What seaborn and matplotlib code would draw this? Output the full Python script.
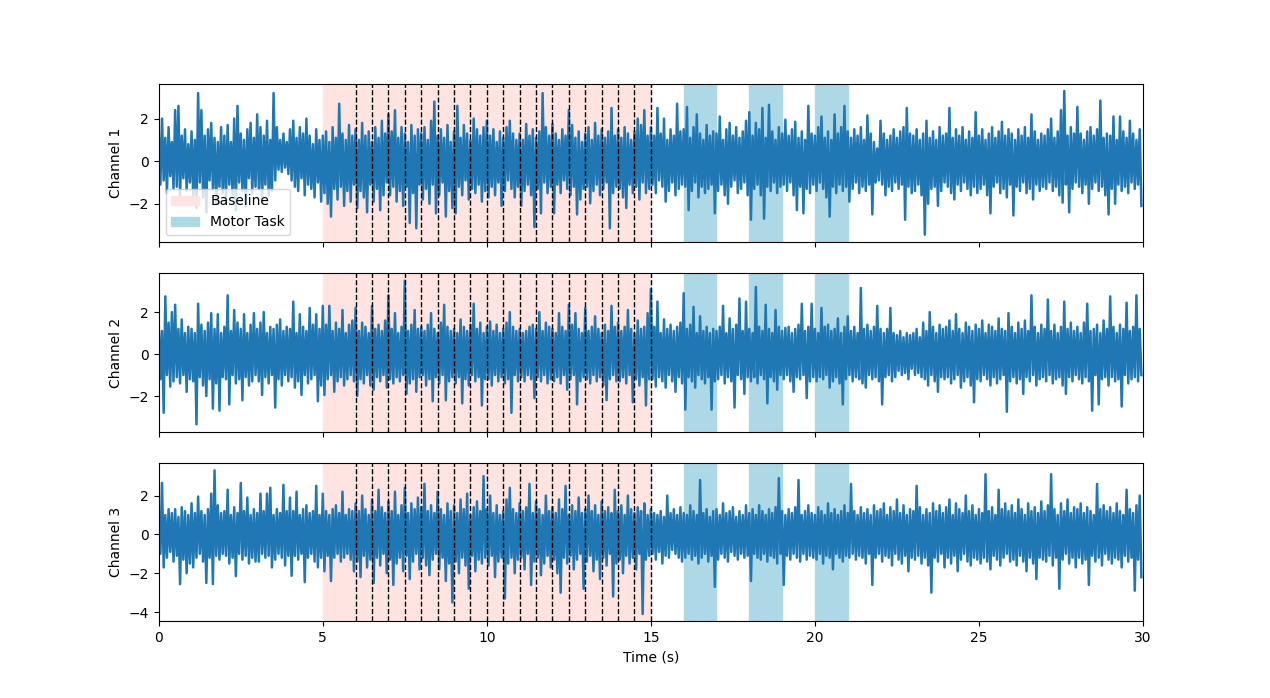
import numpy as np
import matplotlib
matplotlib.use("Agg")
import matplotlib.pyplot as plt
import seaborn as sns

# ---------------- data (alternating local high / low every 0.05 s) -------------
channel_names = ["Channel 1", "Channel 2", "Channel 3"]

channel_1 = [
    1.3,-1.1, 2.0,-0.9, 1.1,-1.5, 1.6,-0.7, 0.9,-1.3, 2.4,-1.2, 2.6,-1.6, 1.2,-0.8, 1.5,-1.4, 0.8,-1.0,
    1.4,-1.6, 1.0,-2.2, 3.2,-1.0, 2.4,-1.7, 1.2,-2.4, 1.5,-0.9, 1.8,-1.3, 1.1,-2.0, 0.9,-1.2, 1.6,-1.5,
    1.2,-1.8, 1.7,-1.1, 0.9,-1.6, 2.0,-2.3, 2.6,-1.0, 1.3,-1.4, 1.0,-2.1, 1.5,-0.8, 1.8,-1.5, 1.1,-1.2,
    2.2,-1.3, 1.6,-2.0, 1.2,-1.1, 1.9,-1.6, 1.0,-1.4, 3.2,-0.9, 1.6,-0.4, 1.0,-0.5, 1.3,-0.3, 0.9,-0.6,
    1.5,-0.9, 1.9,-1.2, 1.1,-1.4, 1.6,-0.8, 1.3,-1.6, 2.0,-1.1, 1.2,-1.3, 0.8,-1.7, 1.5,-1.0, 1.0,-1.9,
    1.2,-1.5, 1.4,-2.0, 0.9,-2.6, 1.6,-1.3, 1.1,-1.8, 2.7,-1.2, 1.3,-2.1, 1.0,-1.4, 1.7,-1.9, 1.2,-1.1,
    1.5,-2.2, 1.0,-1.4, 1.8,-1.7, 1.2,-2.4, 1.4,-1.1, 0.9,-1.9, 1.6,-1.3, 1.1,-2.3, 1.9,-1.6, 1.3,-1.0,
    2.2,-1.6, 1.4,-1.2, 2.4,-1.9, 1.1,-1.4, 1.6,-2.1, 1.3,-1.2, 0.9,-2.9, 1.7,-1.5, 1.2,-3.15, 1.5,-1.1,
    1.3,-1.8, 1.6,-1.3, 1.0,-2.0, 1.9,-1.1, 2.8,-2.45, 1.2,-1.6, 1.5,-1.0, 1.1,-2.6, 1.7,-1.4, 0.9,-2.2,
    1.4,-2.45, 2.6,-1.2, 1.1,-1.6, 1.7,-0.9, 1.3,-1.8, 1.0,-1.3, 2.0,-1.5, 1.5,-1.1, 1.2,-1.9, 1.6,-1.4,
    1.9,-1.7, 1.2,-1.2, 1.5,-1.6, 0.9,-1.0, 1.4,-2.1, 1.1,-1.4, 1.6,-0.9, 1.9,-1.3, 1.3,-1.7, 1.0,-1.2,
    1.3,-2.1, 1.0,-1.4, 1.75,-1.1, 1.2,-1.6, 1.5,-3.1, 1.1,-1.3, 1.4,-2.45, 3.2,-1.0, 1.6,-1.5, 1.2,-1.2,
    1.75,-2.45, 1.3,-1.1, 1.0,-1.5, 1.5,-0.9, 1.2,-1.3, 2.4,-1.6, 1.7,-1.2, 1.1,-2.5, 1.4,-1.8, 0.9,-1.3,
    1.3,-1.2, 1.6,-1.98, 1.0,-1.4, 1.8,-1.1, 1.2,-1.6, 1.5,-1.3, 1.1,-1.0, 1.4,-3.15, 2.5,-1.5, 1.2,-1.2,
    1.5,-1.3, 1.1,-1.7, 1.6,-2.2, 1.3,-1.1, 1.0,-1.5, 1.4,-1.2, 2.0,-1.8, 1.7,-1.0, 2.4,-1.5, 1.2,-1.3,
    1.6,-1.1, 1.2,-1.5, 2.5,-0.9, 1.3,-1.2, 2.0,-1.9, 1.0,-1.4, 1.5,-1.0, 1.2,-1.6, 2.7,-1.3, 1.4,-1.1,
    1.5,-1.2, 2.55,-2.3, 1.1,-1.4, 1.6,-1.0, 2.2,-1.7, 1.3,-1.2, 1.0,-1.5, 1.7,-1.3, 1.2,-1.1, 1.4,-2.45,
    1.3,-1.4, 2.1,-1.1, 1.0,-1.6, 1.5,-2.0, 1.8,-1.2, 1.2,-0.9, 1.6,-1.5, 1.1,-1.3, 1.4,-1.0, 1.9,-1.6,
    2.3,-2.75, 1.2,-1.3, 1.8,-1.1, 1.5,-1.6, 2.5,-2.7, 1.1,-1.2, 2.65,-1.4, 1.4,-1.0, 1.0,-1.5, 1.6,-1.2,
    1.3,-1.1, 1.95,-1.4, 1.2,-1.0, 1.5,-1.6, 1.85,-2.3, 1.1,-1.2, 1.4,-2.45, 1.0,-1.3, 2.6,-1.5, 1.3,-1.1,
    1.2,-1.4, 1.6,-1.0, 2.1,-1.3, 1.1,-1.7, 1.4,-2.6, 1.0,-1.2, 2.2,-1.5, 1.3,-1.1, 1.6,-1.4, 2.6,-1.2,
    1.4,-1.9, 1.1,-1.3, 1.5,-1.0, 1.2,-1.5, 1.6,-1.2, 1.0,-1.4, 2.15,-1.1, 1.3,-2.5, 0.9,-1.0, 0.6,-0.9,
    1.9,-1.1, 1.3,-1.6, 1.0,-1.2, 1.2,-1.4, 1.5,-1.0, 1.1,-1.3, 1.4,-1.1, 1.6,-2.75, 2.5,-1.2, 1.3,-1.5,
    1.2,-1.4, 1.5,-1.1, 1.0,-1.6, 1.3,-3.45, 1.9,-2.0, 1.1,-1.3, 1.4,-1.2, 1.0,-2.1, 1.6,-1.4, 1.2,-1.0,
    1.3,-1.2, 2.5,-1.5, 1.1,-1.8, 1.5,-1.1, 1.2,-1.4, 1.6,-1.0, 1.0,-1.3, 1.4,-1.6, 1.1,-1.2, 2.3,-1.5,
    1.2,-1.3, 1.5,-1.1, 1.0,-1.6, 1.3,-2.45, 1.6,-1.2, 1.1,-1.0, 1.4,-1.5, 1.85,-1.3, 1.2,-1.7, 1.5,-1.1,
    1.3,-2.55, 1.0,-1.2, 1.5,-1.4, 1.2,-1.0, 1.6,-1.5, 1.1,-1.3, 2.2,-1.8, 1.4,-1.1, 1.0,-1.4, 1.3,-1.2,
    1.2,-1.3, 1.5,-1.0, 2.0,-1.4, 1.1,-1.2, 1.4,-1.6, 2.4,-1.95, 3.3,-1.1, 1.2,-2.4, 1.6,-1.3, 1.3,-1.0,
    2.55,-1.2, 1.3,-1.5, 1.0,-1.1, 1.4,-2.0, 1.6,-1.3, 1.2,-1.0, 1.5,-1.4, 2.85,-1.2, 1.1,-1.6, 1.3,-2.5,
    1.2,-1.3, 2.1,-2.0, 1.0,-1.1, 2.1,-1.4, 1.4,-1.2, 1.1,-1.5, 1.9,-1.0, 1.3,-1.3, 1.0,-1.1, 1.5,-2.1,
]

channel_2 = [
    1.4,-1.2, 1.1,-2.8, 2.75,-1.0, 1.5,-1.55, 2.0,-1.3, 2.35,-1.1, 1.2,-1.4, 1.65,-1.0, 1.0,-1.8, 1.3,-1.2,
    1.2,-1.3, 1.0,-3.35, 2.4,-1.1, 1.4,-1.5, 1.1,-2.0, 1.5,-1.2, 1.95,-2.6, 1.2,-1.4, 1.9,-2.7, 1.0,-1.1,
    1.3,-1.2, 2.8,-2.4, 1.1,-1.0, 2.1,-1.4, 1.5,-1.2, 1.2,-2.2, 1.9,-1.1, 1.0,-1.5, 1.4,-1.3, 1.95,-1.0,
    1.2,-1.3, 1.5,-1.95, 2.0,-1.1, 1.0,-1.4, 1.3,-1.0, 1.2,-2.55, 1.4,-1.2, 1.65,-1.5, 1.1,-1.0, 1.3,-1.3,
    1.2,-1.1, 2.5,-1.6, 1.0,-1.3, 1.9,-1.95, 1.3,-1.0, 1.1,-1.4, 2.2,-1.2, 1.4,-1.0, 1.9,-2.25, 1.2,-1.5,
    2.3,-1.95, 1.4,-1.2, 2.3,-1.0, 1.1,-1.8, 1.5,-1.3, 1.2,-1.1, 2.1,-1.5, 1.0,-1.2, 1.4,-1.0, 1.6,-1.3,
    2.2,-2.0, 1.1,-1.2, 1.5,-1.4, 1.3,-1.0, 1.0,-1.5, 2.3,-1.7, 1.2,-1.1, 1.4,-1.3, 1.1,-1.0, 1.6,-1.6,
    2.8,-1.2, 1.2,-1.4, 1.95,-1.1, 1.0,-1.3, 1.3,-1.0, 3.5,-1.9, 1.1,-1.4, 1.4,-1.2, 2.1,-1.8, 1.2,-1.1,
    1.3,-1.0, 1.1,-1.5, 1.4,-1.2, 1.95,-2.25, 1.2,-1.1, 1.0,-1.4, 1.5,-1.0, 2.35,-2.2, 1.3,-1.3, 1.1,-1.1,
    1.2,-1.4, 1.0,-1.1, 1.65,-2.35, 1.3,-1.2, 1.1,-1.5, 1.4,-1.0, 2.4,-1.3, 1.2,-1.1, 1.5,-2.45, 1.0,-1.2,
    1.3,-1.2, 1.55,-1.5, 1.1,-1.0, 1.4,-1.3, 1.0,-1.1, 1.2,-1.4, 1.5,-1.2, 2.0,-2.8, 1.3,-1.0, 1.1,-1.3,
    1.2,-1.1, 1.0,-1.3, 1.1,-1.0, 1.3,-1.2, 1.4,-2.1, 1.2,-1.1, 2.0,-1.3, 1.1,-1.0, 1.5,-1.4, 1.3,-1.2,
    1.2,-1.3, 1.0,-1.1, 1.95,-1.4, 1.3,-1.0, 1.1,-1.7, 2.35,-1.2, 1.4,-1.0, 1.95,-2.4, 1.2,-1.3, 1.0,-1.1,
    2.2,-1.2, 1.1,-1.4, 1.3,-1.0, 1.8,-1.3, 1.2,-1.1, 1.0,-1.5, 1.4,-2.2, 1.1,-1.2, 2.3,-1.0, 1.3,-1.3,
    1.5,-1.3, 1.1,-1.1, 1.3,-1.4, 2.1,-1.0, 1.2,-2.3, 1.0,-1.2, 1.6,-1.5, 1.2,-1.1, 1.3,-2.45, 1.95,-1.2,
    3.1,-1.2, 1.3,-1.55, 2.5,-1.1, 1.0,-1.3, 1.65,-1.6, 1.2,-1.0, 1.4,-1.3, 1.1,-1.8, 1.3,-1.1, 1.5,-1.4,
    2.9,-2.65, 1.2,-1.1, 1.4,-1.3, 2.25,-1.6, 1.0,-1.0, 1.8,-1.2, 1.1,-1.4, 1.3,-1.1, 1.0,-2.65, 1.2,-1.3,
    1.1,-1.2, 1.3,-1.0, 2.3,-1.4, 1.0,-1.1, 1.7,-1.3, 1.2,-2.55, 1.4,-1.0, 2.65,-1.2, 1.1,-1.9, 2.5,-1.1,
    1.2,-1.3, 1.0,-1.1, 3.2,-1.4, 1.3,-1.0, 1.1,-1.2, 2.35,-2.35, 1.2,-1.1, 1.0,-1.3, 2.1,-1.7, 1.3,-1.0,
    1.1,-1.2, 1.25,-1.0, 1.3,-1.3, 1.0,-1.8, 1.2,-1.1, 1.4,-1.2, 2.4,-1.0, 1.1,-2.1, 1.3,-1.3, 2.4,-1.1,
    1.2,-1.3, 1.0,-1.1, 2.2,-1.2, 1.3,-1.0, 1.4,-1.6, 1.1,-1.3, 1.2,-1.1, 1.7,-1.4, 1.0,-2.4, 1.3,-1.2,
    1.8,-1.0, 1.1,-1.3, 1.3,-1.1, 1.0,-1.2, 3.15,-1.4, 1.2,-1.6, 1.4,-1.0, 1.1,-1.2, 1.3,-1.1, 2.3,-1.3,
    1.2,-2.4, 1.0,-1.1, 1.2,-1.0, 2.2,-1.3, 1.0,-1.1, 0.9,-0.8, 1.1,-1.0, 0.8,-0.9, 1.0,-1.2, 0.9,-0.7,
    1.0,-1.0, 1.2,-0.9, 0.8,-1.1, 1.5,-1.2, 1.1,-1.5, 2.0,-1.0, 1.3,-1.3, 1.0,-1.8, 1.4,-1.1, 1.2,-1.2,
    1.3,-1.1, 1.6,-1.4, 1.1,-1.2, 1.9,-1.0, 1.2,-1.6, 1.0,-1.3, 1.5,-1.1, 1.3,-1.5, 1.1,-2.3, 1.4,-1.2,
    1.2,-1.3, 1.6,-1.0, 1.0,-1.2, 1.4,-1.5, 1.3,-1.1, 1.1,-1.4, 1.7,-1.2, 1.2,-1.0, 1.1,-2.75, 1.95,-1.3,
    1.3,-1.1, 1.0,-1.4, 1.5,-1.2, 1.2,-1.9, 1.6,-1.1, 1.1,-1.3, 2.8,-1.0, 1.3,-1.5, 1.0,-1.2, 1.4,-1.1,
    1.2,-1.3, 2.6,-1.0, 1.1,-1.4, 1.4,-1.2, 1.0,-1.1, 1.3,-1.5, 2.5,-1.9, 1.2,-1.1, 1.5,-1.3, 1.1,-1.0,
    1.3,-1.2, 1.0,-1.4, 1.5,-1.1, 2.4,-1.3, 1.1,-2.7, 1.2,-1.0, 1.4,-2.4, 1.0,-1.2, 1.6,-1.1, 1.2,-1.5,
    2.75,-1.1, 1.3,-1.3, 1.0,-1.2, 1.4,-2.5, 1.2,-1.0, 2.45,-1.4, 1.1,-1.2, 1.3,-1.1, 2.8,-1.3, 1.2,-1.0,
]

channel_3 = [
    1.2,-1.0, 2.65,-1.7, 1.0,-1.2, 1.3,-0.9, 1.1,-1.4, 1.3,-1.1, 0.9,-2.56, 1.4,-1.3, 1.2,-2.0, 1.0,-1.5,
    1.6,-1.7, 1.1,-1.2, 1.95,-1.0, 1.2,-1.4, 1.0,-2.5, 1.3,-1.2, 2.1,-2.56, 3.3,-1.1, 1.5,-1.3, 1.1,-1.0,
    1.2,-1.1, 2.3,-1.5, 1.0,-1.2, 1.4,-2.15, 1.1,-1.0, 2.65,-1.3, 1.2,-1.1, 1.9,-1.5, 1.0,-1.2, 1.3,-1.4,
    1.1,-1.4, 2.1,-1.0, 1.2,-1.2, 2.1,-1.1, 2.4,-1.7, 1.0,-1.3, 1.3,-1.0, 1.1,-1.2, 2.55,-1.6, 1.2,-1.1,
    1.9,-2.13, 1.2,-1.1, 2.2,-1.3, 1.0,-1.0, 1.3,-2.46, 1.5,-1.2, 1.1,-1.0, 1.2,-1.4, 2.5,-1.7, 1.0,-1.2,
    2.1,-1.9, 1.2,-1.1, 1.0,-2.4, 1.3,-1.2, 1.5,-1.0, 1.1,-1.4, 2.2,-1.2, 1.0,-1.0, 1.3,-1.3, 1.2,-1.9,
    1.6,-1.4, 1.2,-2.2, 2.0,-1.1, 1.3,-1.7, 1.0,-1.3, 1.8,-2.5, 1.2,-1.2, 2.3,-1.6, 1.4,-1.0, 1.1,-2.0,
    1.7,-1.3, 1.2,-2.6, 2.2,-1.5, 1.0,-1.2, 1.5,-1.9, 2.4,-1.1, 1.1,-2.3, 1.6,-1.4, 1.3,-1.0, 1.9,-1.8,
    1.4,-1.2, 2.6,-1.6, 1.2,-2.1, 1.5,-1.3, 1.1,-1.0, 2.2,-1.8, 1.3,-1.2, 1.0,-2.4, 1.6,-1.5, 1.2,-3.5,
    1.5,-1.4, 1.1,-2.0, 1.8,-1.2, 1.3,-1.6, 2.1,-2.8, 1.0,-1.1, 1.4,-1.9, 1.7,-1.3, 1.2,-1.5, 3.0,-1.2,
    1.3,-1.6, 2.0,-1.1, 1.1,-2.2, 1.5,-1.4, 1.0,-1.2, 1.2,-3.3, 1.8,-1.5, 2.4,-1.2, 1.3,-2.0, 1.1,-1.3,
    1.6,-1.2, 1.2,-1.8, 1.4,-1.0, 2.6,-2.6, 1.1,-1.4, 1.7,-1.2, 1.3,-2.1, 1.0,-1.5, 2.0,-1.1, 1.2,-1.7,
    1.4,-1.3, 1.1,-2.0, 1.8,-3.0, 1.3,-1.2, 2.5,-1.5, 1.0,-1.1, 1.5,-1.8, 1.2,-1.3, 1.9,-1.0, 1.1,-2.8,
    1.3,-1.4, 2.0,-1.1, 1.2,-1.9, 1.5,-1.3, 1.0,-2.3, 1.7,-1.2, 1.2,-1.6, 1.4,-1.0, 1.1,-3.2, 2.3,-1.5,
    1.2,-1.3, 1.5,-2.0, 1.0,-1.1, 2.0,-1.5, 1.3,-1.2, 1.1,-1.8, 1.4,-1.0, 1.2,-4.1, 1.6,-1.3, 1.0,-1.1,
    1.3,-1.0, 1.1,-1.3, 1.0,-0.9, 1.2,-1.5, 0.9,-1.1, 2.0,-1.2, 1.1,-0.8, 1.3,-1.0, 1.0,-1.2, 1.4,-1.4,
    1.1,-1.2, 1.0,-1.0, 1.5,-1.3, 1.2,-1.1, 1.0,-1.5, 2.8,-1.2, 1.1,-1.0, 1.3,-1.4, 0.9,-1.1, 1.2,-2.7,
    1.3,-1.3, 1.0,-1.0, 1.6,-1.2, 1.1,-1.4, 1.2,-0.9, 1.4,-1.1, 0.9,-1.3, 1.2,-1.0, 1.0,-1.2, 1.5,-1.1,
    1.1,-2.4, 1.3,-1.0, 1.0,-1.2, 1.5,-1.3, 1.2,-1.0, 1.0,-1.4, 1.3,-1.1, 1.1,-1.2, 1.4,-1.5, 2.9,-1.0,
    1.2,-2.6, 1.0,-1.1, 1.3,-1.3, 1.1,-1.0, 1.4,-1.2, 2.8,-1.4, 1.0,-1.0, 1.2,-1.3, 1.5,-1.1, 1.1,-1.2,
    1.0,-1.3, 1.4,-1.0, 1.2,-1.5, 1.0,-1.1, 1.6,-1.2, 1.1,-1.8, 1.3,-1.0, 1.0,-1.2, 1.2,-1.4, 1.5,-1.1,
    1.1,-1.2, 2.6,-1.0, 1.2,-1.3, 1.0,-1.1, 1.4,-1.2, 1.1,-1.5, 1.3,-1.0, 1.0,-2.6, 1.5,-1.2, 1.2,-1.0,
    1.3,-1.4, 1.6,-1.1, 1.0,-1.2, 1.4,-1.6, 1.2,-1.0, 1.8,-1.3, 1.1,-1.5, 1.5,-1.1, 1.0,-1.9, 1.3,-1.2,
    1.2,-1.3, 2.5,-1.1, 1.4,-1.5, 1.0,-1.2, 1.3,-1.6, 1.1,-3.0, 1.6,-1.2, 1.2,-1.4, 1.5,-1.0, 1.1,-1.7,
    1.4,-1.2, 1.8,-1.5, 1.0,-1.1, 1.6,-1.9, 1.3,-1.3, 1.1,-1.0, 2.0,-1.4, 1.2,-1.6, 1.5,-1.2, 1.0,-1.3,
    1.3,-1.5, 1.1,-1.2, 3.1,-1.4, 1.2,-1.8, 1.4,-1.1, 1.0,-1.3, 2.3,-1.6, 1.3,-1.2, 1.6,-1.0, 1.2,-1.4,
    1.5,-1.3, 1.1,-1.6, 1.8,-1.1, 1.3,-1.4, 1.0,-1.9, 1.6,-1.2, 1.2,-1.5, 1.4,-2.3, 1.1,-1.2, 1.7,-1.3,
    1.2,-1.4, 1.5,-1.1, 3.1,-1.6, 1.3,-1.2, 1.0,-2.8, 1.6,-1.3, 1.2,-1.0, 1.8,-1.5, 1.1,-1.2, 1.4,-1.7,
    1.3,-1.2, 1.6,-1.5, 1.1,-1.3, 1.4,-2.6, 1.2,-1.1, 1.0,-1.4, 2.6,-1.2, 1.3,-1.6, 1.5,-1.0, 1.2,-1.3,
    1.4,-1.5, 1.1,-1.2, 1.6,-1.3, 1.2,-1.7, 1.0,-1.1, 2.3,-1.4, 1.3,-1.2, 1.1,-2.9, 1.5,-1.3, 2.0,-2.2,
]

duration_s = 30.0
baseline_window = (5.0, 15.0)
motor_windows = [(16.0, 17.0), (18.0, 19.0), (20.0, 21.0)]
event_times = [6.0, 6.5, 7.0, 7.5, 8.0, 8.5, 9.0, 9.5, 10.0, 10.5, 11.0, 11.5,
               12.0, 12.5, 13.0, 13.5, 14.0, 14.5, 15.0]
legend_labels = ["Baseline", "Motor Task"]

# ---------------- plot ----------------
fig, axes = plt.subplots(3, 1, figsize=(12.7, 6.98), dpi=100, sharex=True)
channels = [channel_1, channel_2, channel_3]

for i, (ax, name, values) in enumerate(zip(axes, channel_names, channels)):
    values = np.asarray(values, dtype=float)
    time = np.linspace(0.0, duration_s, len(values), endpoint=False)
    ax.axvspan(baseline_window[0], baseline_window[1], color="mistyrose",
               label=legend_labels[0] if i == 0 else None, zorder=0)
    for k, (s, e) in enumerate(motor_windows):
        ax.axvspan(s, e, color="lightblue",
                   label=legend_labels[1] if (i == 0 and k == 0) else None, zorder=0)
    sns.lineplot(x=time, y=values, ax=ax, color="#1f77b4", linewidth=1.8,
                 estimator=None, sort=False, zorder=2)
    for t in event_times:
        ax.axvline(t, color="black", linestyle="--", linewidth=1, zorder=3)
    ax.set_ylabel(name)
    ax.set_xlim(0, duration_s)

axes[0].legend(loc="lower left")
axes[-1].set_xlabel("Time (s)")
axes[-1].set_xticks([0, 5, 10, 15, 20, 25, 30])

fig.savefig("out.png", dpi=100)
